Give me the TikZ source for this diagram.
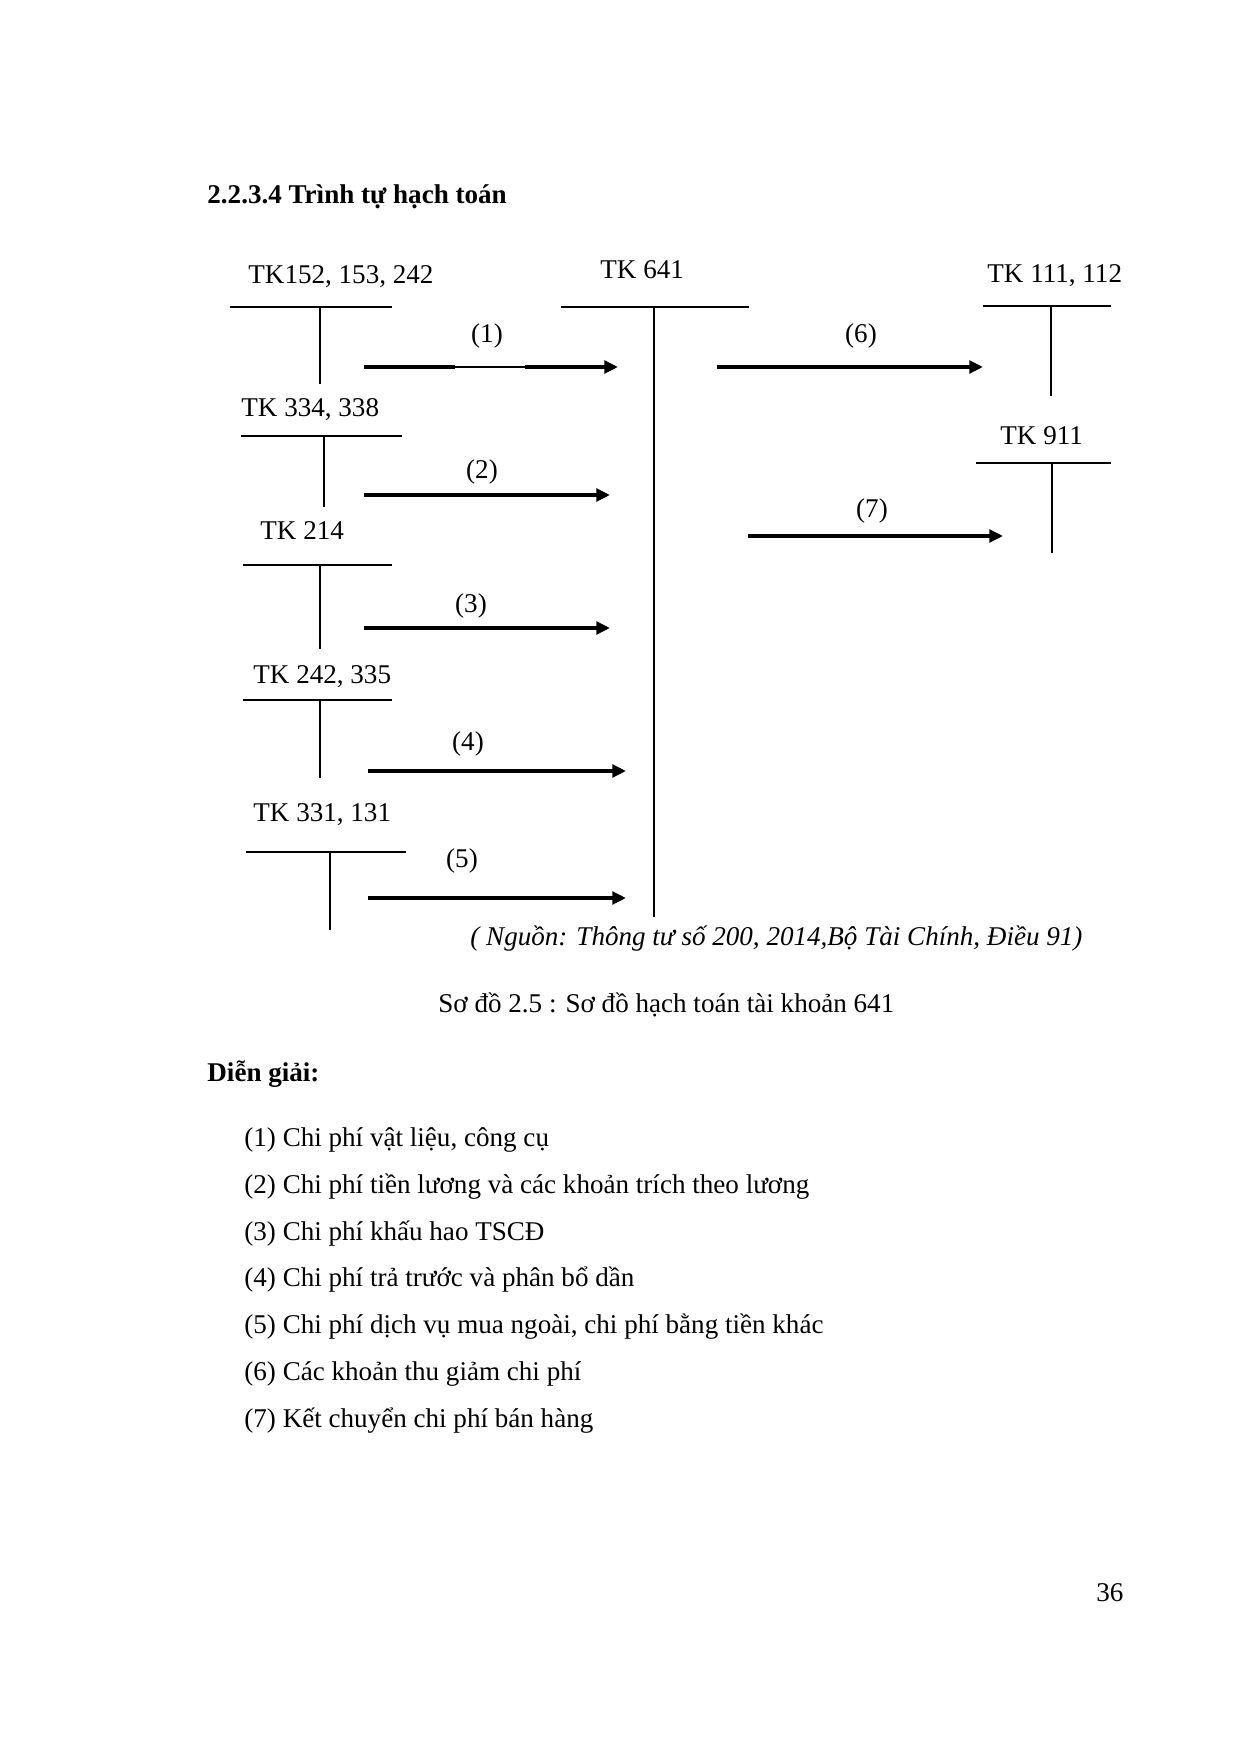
\documentclass[tikz,border=0pt]{standalone}
\usepackage{fontspec}
\setmainfont{Liberation Serif}
\usetikzlibrary{arrows.meta}
\begin{document}
\begin{tikzpicture}[x=0.48006pt,y=-0.48006pt,
  txt/.style={inner sep=0pt,font=\fontsize{13}{15}\selectfont},
  lab/.style={txt,anchor=base west},
  num/.style={txt,anchor=base},
  tline/.style={line width=1pt},
  shaft/.style={line width=1.6pt},
  arr/.style={line width=1.6pt,-{Triangle[length=6.5pt,width=6pt]}},
]
\useasboundingbox[fill=white] (0,0) rectangle (1240,1754);

\node[lab] (head) at (207,204) {\bfseries 2.2.3.4 Trình tự hạch toán};

% T-account labels
\node[lab] (tkA) at (248,284) {TK152, 153, 242};
\node[lab] (tkM) at (600,279) {TK 641};
\node[lab] (tkB) at (241,417) {TK 334, 338};
\node[lab] (tkC) at (260,539) {TK 214};
\node[lab] (tkD) at (253,683) {TK 242, 335};
\node[lab] (tkE) at (253,821) {TK 331, 131};
\node[lab] (tkF) at (987,283) {TK 111, 112};
\node[lab] (tkG) at (1000,445) {TK 911};

% T-account shapes
\coordinate (Al) at (230,307); \coordinate (Ar) at (392,307);
\coordinate (At) at (320,307); \coordinate (Ab) at (320,384);
\coordinate (Ml) at (561,307); \coordinate (Mr) at (749,307);
\coordinate (Mt) at (654,307); \coordinate (Mb) at (654,917);
\coordinate (Bl) at (241,436); \coordinate (Br) at (402,436);
\coordinate (Bt) at (324,436); \coordinate (Bb) at (324,507);
\coordinate (Cl) at (243,565); \coordinate (Cr) at (392,565);
\coordinate (Ct) at (320,565); \coordinate (Cb) at (320,649);
\coordinate (Dl) at (243,700); \coordinate (Dr) at (392,700);
\coordinate (Dt) at (320,700); \coordinate (Db) at (320,778);
\coordinate (El) at (246,852); \coordinate (Er) at (406,852);
\coordinate (Et) at (330,852); \coordinate (Eb) at (330,930);
\coordinate (Fl) at (983,306); \coordinate (Fr) at (1111,306);
\coordinate (Ft) at (1051,306); \coordinate (Fb) at (1051,396);
\coordinate (Gl) at (976,463); \coordinate (Gr) at (1111,463);
\coordinate (Gt) at (1052,463); \coordinate (Gb) at (1052,553);
\foreach \k in {A,M,B,C,D,E,F,G}{
  \draw[tline] (\k l) -- (\k r);
  \draw[tline] (\k t) -- (\k b);
}

% arrows
\coordinate (a1s) at (364,367); \coordinate (a1m) at (455,367);
\coordinate (a1n) at (525,367); \coordinate (a1e) at (618,367);
\draw[shaft] (a1s) -- (a1m);
\draw[line width=0.5pt] (a1m) -- (a1n);
\draw[arr] (a1n) -- (a1e);
\coordinate (a2s) at (364,495); \coordinate (a2e) at (610,495);
\draw[arr] (a2s) -- (a2e);
\coordinate (a3s) at (364,628); \coordinate (a3e) at (610,628);
\draw[arr] (a3s) -- (a3e);
\coordinate (a4s) at (368,771); \coordinate (a4e) at (626,771);
\draw[arr] (a4s) -- (a4e);
\coordinate (a5s) at (368,898); \coordinate (a5e) at (626,898);
\draw[arr] (a5s) -- (a5e);
\coordinate (a6s) at (717,367); \coordinate (a6e) at (983,367);
\draw[arr] (a6s) -- (a6e);
\coordinate (a7s) at (748,536); \coordinate (a7e) at (1003,536);
\draw[arr] (a7s) -- (a7e);

% arrow labels
\node[num] (l1) at (487,343) {(1)};
\node[num] (l2) at (482,478) {(2)};
\node[num] (l3) at (471,612) {(3)};
\node[num] (l4) at (468,750) {(4)};
\node[num] (l5) at (462,867) {(5)};
\node[num] (l6) at (861,343) {(6)};
\node[num] (l7) at (872,517) {(7)};

% captions
\node[lab] (src) at (470,945) {\itshape ( Nguồn: Thông tư số 200, 2014,Bộ Tài Chính, Điều 91)};
\node[lab] (cap) at (438,1012) {Sơ đồ 2.5 : Sơ đồ hạch toán tài khoản 641};

\node[lab] (dg) at (207,1081) {\bfseries Diễn giải:};
\node[lab] (i1) at (244,1146) {(1) Chi phí vật liệu, công cụ};
\node[lab] (i2) at (244,1193) {(2) Chi phí tiền lương và các khoản trích theo lương};
\node[lab] (i3) at (244,1240) {(3) Chi phí khấu hao TSCĐ};
\node[lab] (i4) at (244,1286) {(4) Chi phí trả trước và phân bổ dần};
\node[lab] (i5) at (244,1333) {(5) Chi phí dịch vụ mua ngoài, chi phí bằng tiền khác};
\node[lab] (i6) at (244,1380) {(6) Các khoản thu giảm chi phí};
\node[lab] (i7) at (244,1427) {(7) Kết chuyển chi phí bán hàng};

\node[lab] (pg) at (1096,1601) {36};
\end{tikzpicture}
\end{document}
